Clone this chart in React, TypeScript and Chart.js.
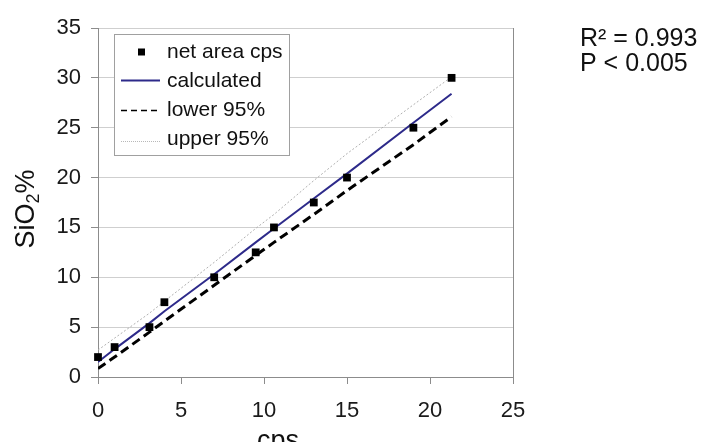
import { useEffect, useRef } from "react";
import { Chart, registerables } from "chart.js";

Chart.register(...registerables);

// ---- data ----
const cps = [0, 1, 3.1, 4, 7, 9.5, 10.6, 13, 15, 19, 21.3];
const netAreaSiO2 = [2, 3, 5, 7.5, 10, 12.5, 15, 17.5, 20, 25, 30];
const calculated = [1.5, 2.8, 5.4, 6.6, 10.3, 13.5, 14.9, 17.9, 20.4, 25.5, 28.4];
const lower95 = [0.85, 2.0, 4.5, 5.6, 9.2, 12.2, 13.5, 16.3, 18.7, 23.3, 26.1];
const upper95 = [2.7, 3.9, 6.4, 7.6, 11.5, 14.9, 16.3, 19.7, 22.4, 27.3, 30.1];
const xTicks = [0, 5, 10, 15, 20, 25];
const yTicks = [0, 5, 10, 15, 20, 25, 30, 35];
const legendLabels = ["net area cps", "calculated", "lower 95%", "upper 95%"];
const statsLines = ["R\u00b2 = 0.993", "P < 0.005"];
const xTitle = "cps";
const yTitleParts = ["SiO", "2", "%"];

const FONT = '"Liberation Sans", Arial, Helvetica, sans-serif';
const NAVY = "#2d2a8a";

const pts = (ys: number[]) => cps.map((x, i) => ({ x, y: ys[i] }));

const overlayPlugin = {
  id: "overlay",
  afterDraw(chart: any) {
    const { ctx, chartArea: a } = chart;
    ctx.save();
    // right border of plot area
    ctx.strokeStyle = "#8c8c8c";
    ctx.lineWidth = 1;
    ctx.beginPath();
    const rx = Math.round(a.right) + 0.5;
    ctx.moveTo(rx, a.top);
    ctx.lineTo(rx, a.bottom);
    ctx.stroke();

    // legend box
    const bx = 114.5, by = 34.5, bw = 175, bh = 121;
    ctx.fillStyle = "#ffffff";
    ctx.fillRect(bx, by, bw, bh);
    ctx.strokeStyle = "#a0a0a0";
    ctx.lineWidth = 1;
    ctx.strokeRect(bx, by, bw, bh);

    const sx0 = 121, sx1 = 160, tx = 167;
    const baselines = [57.5, 86.5, 115.5, 144.5];
    // marker
    ctx.fillStyle = "#000";
    ctx.fillRect(138, 48.5, 7, 7);
    // calculated
    ctx.strokeStyle = NAVY;
    ctx.lineWidth = 2;
    ctx.setLineDash([]);
    ctx.beginPath();
    ctx.moveTo(sx0, 80.5);
    ctx.lineTo(sx1, 80.5);
    ctx.stroke();
    // lower
    ctx.strokeStyle = "#000";
    ctx.lineWidth = 1.5;
    ctx.setLineDash([6, 4]);
    ctx.beginPath();
    ctx.moveTo(sx0, 110.5);
    ctx.lineTo(sx1, 110.5);
    ctx.stroke();
    // upper
    ctx.strokeStyle = "#b8b8b8";
    ctx.lineWidth = 1;
    ctx.setLineDash([1, 1]);
    ctx.beginPath();
    ctx.moveTo(sx0, 141.5);
    ctx.lineTo(sx1, 141.5);
    ctx.stroke();
    ctx.setLineDash([]);

    ctx.fillStyle = "#111";
    ctx.font = `21px ${FONT}`;
    ctx.textAlign = "left";
    ctx.textBaseline = "alphabetic";
    legendLabels.forEach((t, i) => ctx.fillText(t, tx, baselines[i]));

    // stats text
    ctx.font = `25px ${FONT}`;
    ctx.fillText(statsLines[0], 580, 46);
    ctx.fillText(statsLines[1], 580, 71);

    // x title
    ctx.font = `27px ${FONT}`;
    ctx.textAlign = "center";
    ctx.fillText(xTitle, 278, 449);

    // y title with subscript
    ctx.translate(34, 209);
    ctx.rotate(-Math.PI / 2);
    const big = `27px ${FONT}`;
    const small = `18px ${FONT}`;
    ctx.font = big;
    const w0 = ctx.measureText(yTitleParts[0]).width;
    const w2 = ctx.measureText(yTitleParts[2]).width;
    ctx.font = small;
    const w1 = ctx.measureText(yTitleParts[1]).width;
    const total = w0 + w1 + w2;
    let x = -total / 2;
    ctx.textAlign = "left";
    ctx.font = big;
    ctx.fillText(yTitleParts[0], x, 0);
    x += w0;
    ctx.font = small;
    ctx.fillText(yTitleParts[1], x, 5);
    x += w1;
    ctx.font = big;
    ctx.fillText(yTitleParts[2], x, 0);
    ctx.restore();
  },
};

export default function App() {
  const ref = useRef<HTMLCanvasElement | null>(null);

  useEffect(() => {
    document.body.style.margin = "0";
    const canvas = ref.current;
    if (!canvas) return;
    const chart = new Chart(canvas, {
      type: "scatter",
      data: {
        datasets: [
          {
            label: legendLabels[0],
            data: pts(netAreaSiO2),
            showLine: false,
            pointStyle: "rect",
            pointRadius: 5.5,
            backgroundColor: "#000",
            borderColor: "#000",
            borderWidth: 0,
            clip: false,
          },
          {
            label: legendLabels[1],
            data: pts(calculated),
            showLine: true,
            borderColor: NAVY,
            borderWidth: 2,
            pointRadius: 0,
            fill: false,
          },
          {
            label: legendLabels[2],
            data: pts(lower95),
            showLine: true,
            borderColor: "#000",
            borderWidth: 3,
            borderDash: [9, 5],
            pointRadius: 0,
            fill: false,
          },
          {
            label: legendLabels[3],
            data: pts(upper95),
            showLine: true,
            borderColor: "#b0b0b0",
            borderWidth: 1,
            borderDash: [2, 2],
            pointRadius: 0,
            fill: false,
          },
        ],
      },
      options: {
        animation: false,
        responsive: false,
        layout: { padding: { left: 0, right: 193, top: 28, bottom: 0 } },
        plugins: {
          legend: { display: false },
          tooltip: { enabled: false },
        },
        scales: {
          x: {
            type: "linear",
            min: xTicks[0],
            max: xTicks[xTicks.length - 1],
            afterBuildTicks: (s: any) => {
              s.ticks = xTicks.map((v) => ({ value: v }));
            },
            afterFit: (s: any) => {
              s.height = 65;
            },
            grid: {
              drawOnChartArea: false,
              drawTicks: true,
              tickLength: 7,
              tickColor: "#8c8c8c",
            },
            border: { color: "#8c8c8c", width: 1 },
            ticks: {
              padding: 14,
              color: "#1a1a1a",
              font: { family: FONT, size: 22 },
              maxRotation: 0,
            },
          },
          y: {
            type: "linear",
            min: yTicks[0],
            max: yTicks[yTicks.length - 1],
            afterBuildTicks: (s: any) => {
              s.ticks = yTicks.map((v) => ({ value: v }));
            },
            afterFit: (s: any) => {
              s.width = 98;
            },
            grid: {
              color: "#cfcfcf",
              lineWidth: 1,
              drawTicks: true,
              tickLength: 7,
              tickColor: "#8c8c8c",
            },
            border: { color: "#8c8c8c", width: 1 },
            ticks: {
              padding: 10,
              color: "#1a1a1a",
              font: { family: FONT, size: 22 },
            },
          },
        },
      },
      plugins: [overlayPlugin],
    });
    return () => chart.destroy();
  }, []);

  return (
    <div style={{ width: 706, height: 442, position: "relative", background: "#fff" }}>
      <canvas ref={ref} width={706} height={442} style={{ display: "block" }} />
    </div>
  );
}
